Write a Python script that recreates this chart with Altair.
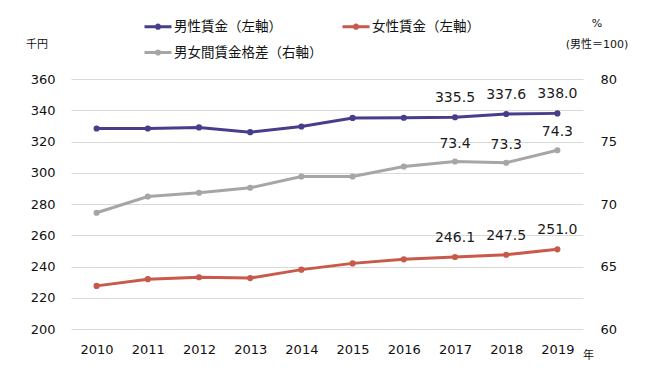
import altair as alt
import pandas as pd

years = [2010, 2011, 2012, 2013, 2014, 2015, 2016, 2017, 2018, 2019]
male = [328.3, 328.3, 329.0, 326.0, 329.6, 335.1, 335.2, 335.5, 337.6, 338.0]
female = [227.6, 231.9, 233.1, 232.6, 238.0, 242.0, 244.6, 246.1, 247.5, 251.0]
gap = [69.3, 70.6, 70.9, 71.3, 72.2, 72.2, 73.0, 73.4, 73.3, 74.3]

name_male = "男性賃金（左軸）"
name_female = "女性賃金（左軸）"
name_gap = "男女間賃金格差（右軸）"
# legend is filled column by column: column 1 = male, gap ; column 2 = female
series_names = [name_male, name_gap, name_female]
series_colors = ["#463E8A", "#A6A6A6", "#C75A4A"]
label_years = [2017, 2018, 2019]
left_ticks = [200, 220, 240, 260, 280, 300, 320, 340, 360]
right_ticks = [60, 65, 70, 75, 80]

FONT = "DejaVu Sans, Noto Sans CJK JP, sans-serif"

df_left = pd.DataFrame(
    {
        "year": years * 2,
        "series": [name_male] * len(years) + [name_female] * len(years),
        "value": male + female,
    }
)
df_gap = pd.DataFrame({"year": years, "series": [name_gap] * len(years), "value": gap})

color_scale = alt.Scale(domain=series_names, range=series_colors)
color = alt.Color("series:N", scale=color_scale, sort=series_names, legend=alt.Legend(title=None))
color_nolegend = alt.Color("series:N", scale=color_scale, legend=None)

x_enc = alt.X(
    "year:O",
    scale=alt.Scale(type="point", padding=0.5),
    axis=alt.Axis(
        labelAngle=0,
        domain=False,
        ticks=False,
        grid=False,
        labelPadding=14,
        labelFontSize=13,
        labelFont=FONT,
        labelColor="#111111",
        title="年",
        titleFont=FONT,
        titleFontSize=11,
        titleFontWeight="normal",
        titleColor="#111111",
        titleAngle=0,
        titleX=517,
        titleY=26,
        titleAlign="center",
        titleBaseline="middle",
    ),
)

y_left = alt.Y(
    "value:Q",
    scale=alt.Scale(domain=[200, 360], nice=False, zero=False),
    axis=alt.Axis(
        orient="left",
        values=left_ticks,
        grid=True,
        gridColor="#D9D9D9",
        domain=False,
        ticks=False,
        labelPadding=16,
        labelFontSize=13,
        labelFont=FONT,
        labelColor="#111111",
        title="千円",
        titleFont=FONT,
        titleFontSize=11,
        titleFontWeight="normal",
        titleColor="#111111",
        titleAngle=0,
        titleX=-34.5,
        titleY=-35,
        titleAlign="center",
        titleBaseline="middle",
    ),
)

y_right = alt.Y(
    "value:Q",
    scale=alt.Scale(domain=[60, 80], nice=False, zero=False),
    axis=alt.Axis(
        orient="right",
        values=right_ticks,
        grid=False,
        domain=False,
        ticks=False,
        labelPadding=17,
        labelFontSize=13,
        labelFont=FONT,
        labelColor="#111111",
        title=["%", "(男性＝100)"],
        titleFont=FONT,
        titleFontSize=11,
        titleFontWeight="normal",
        titleColor="#111111",
        titleAngle=0,
        titleX=13.5,
        titleY=-62,
        titleAlign="center",
        titleBaseline="top",
        titleLineHeight=21,
    ),
)

left_base = alt.Chart(df_left)
left_line = left_base.mark_line(strokeWidth=3).encode(x=x_enc, y=y_left, color=color)
left_pts = left_base.mark_point(filled=True, size=38, opacity=1).encode(x=x_enc, y=y_left, color=color_nolegend)
left_txt = (
    left_base.mark_text(dy=-19, fontSize=14, font=FONT, color="#1A1A1A")
    .encode(x=x_enc, y=y_left, text=alt.Text("value:Q", format=".1f"))
    .transform_filter(alt.FieldOneOfPredicate(field="year", oneOf=label_years))
)
left = alt.layer(left_line, left_pts, left_txt)

gap_base = alt.Chart(df_gap)
gap_line = gap_base.mark_line(strokeWidth=3).encode(x=x_enc, y=y_right, color=color)
gap_pts = gap_base.mark_point(filled=True, size=38, opacity=1).encode(x=x_enc, y=y_right, color=color_nolegend)
gap_txt = (
    gap_base.mark_text(dy=-18, fontSize=14, font=FONT, color="#1A1A1A")
    .encode(x=x_enc, y=y_right, text=alt.Text("value:Q", format=".1f"))
    .transform_filter(alt.FieldOneOfPredicate(field="year", oneOf=label_years))
)
right = alt.layer(gap_line, gap_pts, gap_txt)

legend_path = "M-1,0L1,0M0.12,0A0.12,0.12,0,1,1,-0.12,0A0.12,0.12,0,1,1,0.12,0"

chart = (
    alt.layer(left, right)
    .resolve_scale(y="independent")
    .properties(
        width=512,
        height=250,
        autosize=alt.AutoSizeParams(type="none"),
        padding={"left": 63, "top": 71, "right": 66, "bottom": 36},
    )
    .configure_view(strokeWidth=0)
    .configure_legend(
        orient="none",
        legendX=72,
        legendY=-67.5,
        columns=2,
        symbolType=legend_path,
        symbolSize=729,
        symbolStrokeWidth=3,
        labelFont=FONT,
        labelFontSize=13.5,
        labelColor="#111111",
        labelOffset=1,
        columnPadding=13,
        rowPadding=3,
        labelLimit=300,
    )
)

chart.save("out.html", embed_options={"renderer": "svg", "actions": False})
